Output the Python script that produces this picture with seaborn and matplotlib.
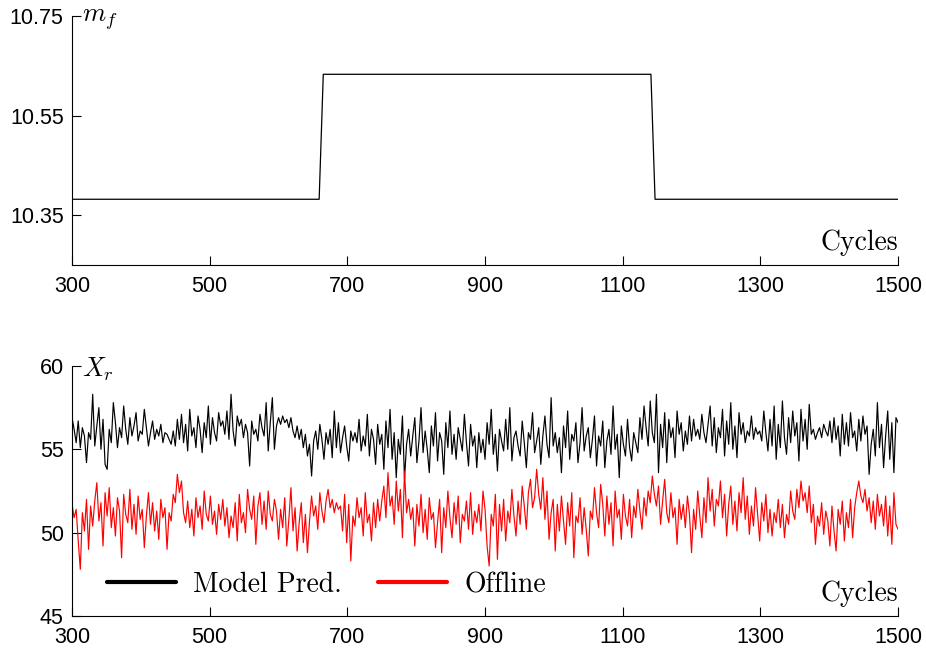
import matplotlib
matplotlib.use("Agg")

import matplotlib.pyplot as plt
import seaborn as sns

sns.set_style("ticks")
plt.rcParams["font.family"] = ["Liberation Sans", "DejaVu Sans"]
plt.rcParams["mathtext.fontset"] = "cm"
for key in ["text.color", "xtick.color", "ytick.color", "axes.edgecolor", "axes.labelcolor"]:
    plt.rcParams[key] = "black"

# top panel: fuel mass step
mf_cycles = [300, 659, 665, 1141, 1147, 1500]
mf_values = [10.382, 10.382, 10.633, 10.633, 10.382, 10.382]

# bottom panel: Xr sampled every 3 cycles
xr_cycles = list(range(300, 1501, 3))

model_pred = [
    56.9, 56.2, 55.4, 56.7, 55.1, 56.3, 55.8, 54.2, 56.0, 55.6, 58.3, 55.2, 56.4, 57.5, 55.0, 56.8, 54.1, 53.8, 56.2, 55.4, 57.8, 56.6, 55.1, 56.3, 55.7,
    57.6, 56.2, 55.3, 56.9, 55.8, 56.4, 57.2, 55.5, 56.1, 55.9, 57.4, 56.3, 55.2, 56.0, 56.7, 55.6, 56.2, 55.8, 56.5, 55.4, 56.0, 55.9, 55.6, 55.3, 56.1,
    55.2, 56.8, 55.6, 57.1, 55.4, 56.5, 54.9, 57.4, 55.8, 56.3, 55.1, 57.0, 56.2, 54.8, 56.6, 55.7, 57.6, 55.3, 56.9, 56.0, 55.5, 57.2, 56.4, 56.7, 55.9,
    57.3, 55.6, 58.3, 56.1, 55.2, 57.0, 56.4, 56.8, 55.7, 56.5, 56.0, 54.0, 56.7, 55.9, 56.2, 55.5, 57.1, 56.3, 55.8, 57.8, 54.9, 56.6, 58.1, 55.0, 56.4,
    56.9, 56.5, 57.0, 56.6, 56.8, 56.3, 56.9, 56.1, 55.7, 56.4, 55.6, 56.2, 55.1, 55.9, 54.6, 55.3, 53.4, 55.5, 56.1, 55.0, 56.5, 55.6, 54.4, 56.0, 55.3,
    56.2, 54.5, 57.3, 55.1, 56.6, 54.8, 55.7, 56.4, 55.2, 54.3, 56.1, 55.5, 56.0, 55.4, 56.8, 54.9, 55.8, 55.2, 57.1, 54.6, 56.2, 55.6, 54.1, 56.5, 55.3,
    55.9, 53.8, 56.7, 55.1, 57.4, 54.4, 56.0, 53.3, 55.6, 54.7, 57.0, 53.2, 55.3, 56.2, 54.6, 55.8, 56.9, 54.2, 55.5, 57.5, 54.8, 56.1, 55.0, 53.6, 56.4,
    55.2, 57.2, 54.3, 56.0, 55.5, 53.5, 56.6, 55.1, 57.3, 54.7, 55.9, 54.4, 56.3, 55.6, 54.9, 57.1, 55.4, 54.0, 56.5, 55.2, 55.8, 53.9, 56.0, 54.8, 55.6,
    54.4, 56.6, 55.3, 57.4, 54.7, 55.9, 53.7, 56.2, 55.5, 54.9, 56.8, 55.0, 57.5, 54.3, 55.7, 56.1, 55.2, 54.6, 56.7, 55.4, 53.9, 56.0, 55.6, 57.2, 54.8,
    55.5, 56.3, 54.1, 55.8, 57.0, 55.3, 54.5, 58.1, 55.2, 56.0, 54.8, 55.7, 53.6, 56.4, 55.1, 57.3, 54.4, 55.9, 55.5, 56.6, 54.2, 55.4, 57.5, 54.9, 55.8,
    56.3, 54.5, 55.6, 57.0, 54.0, 55.8, 55.2, 56.7, 53.9, 55.5, 56.2, 54.7, 57.6, 55.0, 55.9, 53.3, 56.4, 55.3, 54.6, 56.8, 55.1, 54.3, 56.0, 55.4, 54.8,
    56.9, 55.6, 57.6, 56.3, 55.2, 57.9, 56.0, 55.4, 58.3, 53.6, 56.5, 55.1, 57.2, 54.2, 56.8, 55.7, 56.3, 54.5, 57.3, 55.9, 56.6, 54.9, 56.1, 55.3, 57.0,
    55.5, 56.8, 55.8, 56.2, 55.6, 57.1, 56.0, 55.4, 56.5, 57.6, 55.2, 56.9, 54.8, 56.3, 55.7, 57.4, 54.6, 56.7, 55.3, 57.8, 55.0, 56.4, 54.5, 57.2, 55.9,
    56.6, 55.4, 56.1, 55.8, 57.0, 55.6, 56.3, 55.9, 56.1, 55.5, 57.3, 56.0, 54.9, 56.8, 55.2, 57.6, 54.4, 56.5, 55.1, 57.9, 55.7, 54.7, 56.9, 55.4, 57.3,
    55.8, 56.6, 54.3, 57.4, 55.5, 56.8, 55.0, 57.7, 55.9, 56.2, 55.6, 56.0, 56.3, 55.7, 56.5, 56.1, 55.8, 56.7, 55.4, 56.9, 55.6, 56.4, 54.6, 57.1, 55.3,
    56.6, 55.2, 57.2, 55.7, 56.1, 54.9, 56.8, 55.5, 57.0, 55.9, 56.4, 53.5, 55.3, 56.2, 54.6, 57.8, 55.1, 56.5, 53.9, 55.8, 57.3, 54.4, 56.6, 53.6, 56.9,
    56.6,
]

offline = [
    51.7, 50.9, 51.4, 49.5, 47.8, 51.2, 50.1, 52.0, 49.0, 51.6, 50.4, 51.9, 53.0, 50.7, 51.8, 49.2, 52.4, 51.0, 52.7, 50.3, 51.5, 49.8, 52.1, 51.3, 48.5,
    52.3, 51.1, 50.6, 52.6, 50.2, 51.7, 49.9, 52.2, 50.8, 51.4, 49.1, 51.0, 52.4, 50.5, 51.8, 50.1, 51.3, 49.6, 52.0, 50.9, 51.5, 49.0, 51.2, 50.7, 52.3,
    51.8, 53.5, 52.4, 53.1, 51.2, 50.6, 51.9, 50.3, 51.4, 49.8, 52.1, 50.9, 51.6, 50.2, 52.5, 51.1, 50.7, 52.2, 50.5, 51.3, 49.9, 51.7, 50.8, 52.0, 50.4,
    51.5, 49.7, 51.0, 50.3, 51.8, 49.5, 52.3, 50.6, 51.2, 50.0, 52.6, 51.4, 50.8, 52.2, 49.3, 51.6, 52.4, 50.5, 51.9, 50.2, 52.5, 51.1, 50.7, 52.0, 51.3,
    49.6, 51.4, 50.3, 52.1, 49.2, 50.8, 52.7, 50.1, 51.5, 48.9, 50.6, 51.8, 49.4, 51.1, 48.8, 50.7, 52.2, 51.0, 51.6, 50.2, 52.4, 51.3, 50.6, 51.9, 52.6,
    51.5, 52.0, 51.2, 51.8, 51.4, 51.6, 50.1, 52.3, 49.4, 51.7, 48.3, 51.0, 50.4, 52.1, 50.9, 51.5, 49.8, 52.4, 50.6, 51.1, 49.5, 51.8, 50.3, 52.0, 50.7,
    51.9, 52.8, 50.9, 53.6, 51.6, 52.2, 50.5, 53.1, 51.3, 52.6, 49.7, 53.7, 51.2, 52.0, 50.8, 51.5, 49.2, 51.7, 50.4, 52.3, 50.0, 51.4, 49.6, 52.1, 50.8,
    51.2, 49.1, 50.6, 52.0, 48.8, 51.5, 50.3, 52.5, 50.9, 49.7, 51.8, 50.5, 52.2, 49.4, 51.1, 50.7, 51.9, 50.2, 52.4, 49.9, 51.3, 50.6, 51.7, 50.1, 52.5,
    51.4, 49.2, 48.0, 51.1, 50.4, 52.3, 48.4, 51.7, 50.1, 52.0, 49.5, 51.3, 50.6, 52.6, 51.0, 49.8, 51.9, 50.5, 52.8, 51.6, 50.2, 52.4, 53.2, 51.5, 52.1,
    53.8, 52.3, 51.4, 53.3, 50.8, 52.5, 49.6, 51.2, 52.0, 48.9, 51.7, 50.1, 52.2, 50.7, 49.3, 51.8, 50.4, 52.4, 48.5, 51.0, 50.6, 52.1, 49.9, 51.5, 50.2,
    48.6, 51.3, 50.8, 52.7, 51.2, 50.3, 52.9, 51.7, 49.8, 52.2, 50.5, 51.8, 49.2, 52.5, 50.9, 51.4, 49.6, 52.3, 51.0, 50.4, 52.0, 49.7, 51.6, 50.9, 52.6,
    51.3, 50.2, 52.1, 51.0, 52.5, 51.8, 53.4, 52.3, 51.6, 52.8, 50.5, 51.9, 53.2, 51.2, 50.6, 52.4, 50.9, 51.5, 49.3, 52.0, 50.8, 51.7, 50.3, 52.2, 51.1,
    48.8, 51.4, 50.2, 52.5, 51.0, 49.7, 52.1, 50.6, 53.3, 51.3, 52.6, 50.4, 52.0, 51.6, 53.1, 50.9, 52.3, 49.8, 51.7, 52.8, 50.5, 51.9, 50.1, 52.4, 51.2,
    53.3, 50.8, 52.2, 49.9, 51.6, 50.4, 52.7, 51.1, 49.5, 51.8, 50.7, 52.3, 50.0, 51.4, 49.8, 51.2, 50.6, 52.0, 50.3, 51.7, 49.7, 51.1, 50.5, 52.5, 51.3,
    50.8, 52.6, 51.5, 53.1, 51.9, 52.4, 51.2, 52.8, 50.6, 51.7, 49.3, 51.0, 50.4, 51.8, 49.9, 51.3, 50.7, 49.2, 51.6, 50.1, 48.9, 51.4, 50.5, 51.9, 49.5,
    51.2, 50.3, 52.0, 49.7, 51.5, 52.4, 53.1, 52.2, 51.8, 52.6, 51.3, 52.1, 50.6, 51.9, 50.2, 52.3, 51.0, 51.7, 50.4, 52.2, 49.8, 51.6, 49.3, 52.4, 50.5,
    50.2,
]

x_ticks = [300, 500, 700, 900, 1100, 1300, 1500]
mf_ticks = [10.35, 10.55, 10.75]
xr_ticks = [45, 50, 55, 60]

fig = plt.figure(figsize=(9.26, 6.49), dpi=100)
ax1 = fig.add_axes([0.0778, 0.5917, 0.892, 0.3836])
ax2 = fig.add_axes([0.0778, 0.0508, 0.892, 0.3853])

serif = "cmr10"

# top panel
sns.lineplot(x=mf_cycles, y=mf_values, color="black", lw=0.9, ax=ax1)
ax1.set_xlim(300, 1500)
ax1.set_ylim(10.25, 10.75)
ax1.set_xticks(x_ticks)
ax1.set_yticks(mf_ticks)
ax1.set_yticklabels(["%.2f" % v for v in mf_ticks])
ax1.text(0.012, 0.985, r"$m_f$", transform=ax1.transAxes, fontsize=19, va="center")
ax1.text(1.0, 0.06, "Cycles", transform=ax1.transAxes, ha="right", va="baseline",
         fontsize=20, family=serif)

# bottom panel
sns.lineplot(x=xr_cycles, y=model_pred, color="black", lw=0.85, ax=ax2, label="Model Pred.")
sns.lineplot(x=xr_cycles, y=offline, color="red", lw=0.85, ax=ax2, label="Offline")
ax2.set_xlim(300, 1500)
ax2.set_ylim(45, 60)
ax2.set_xticks(x_ticks)
ax2.set_yticks(xr_ticks)
ax2.text(0.012, 0.985, r"$X_r$", transform=ax2.transAxes, fontsize=19, va="center")
ax2.text(1.0, 0.06, "Cycles", transform=ax2.transAxes, ha="right", va="baseline",
         fontsize=20, family=serif)

leg = ax2.legend(loc="center left", bbox_to_anchor=(0.012, 0.124), ncol=2, frameon=False,
                 handlelength=2.5, handletextpad=0.6, columnspacing=1.3,
                 prop={"family": serif, "size": 20})
for line in leg.get_lines():
    line.set_linewidth(3)

for ax in (ax1, ax2):
    sns.despine(ax=ax)
    ax.tick_params(direction="in", length=6.5, width=0.8, labelsize=15.5, colors="black")
    ax.tick_params(axis="x", pad=8)
    ax.tick_params(axis="y", pad=6)
    ax.set_xlabel("")
    ax.set_ylabel("")
    for s in ax.spines.values():
        s.set_linewidth(0.8)

fig.savefig("out.png", dpi=100)
